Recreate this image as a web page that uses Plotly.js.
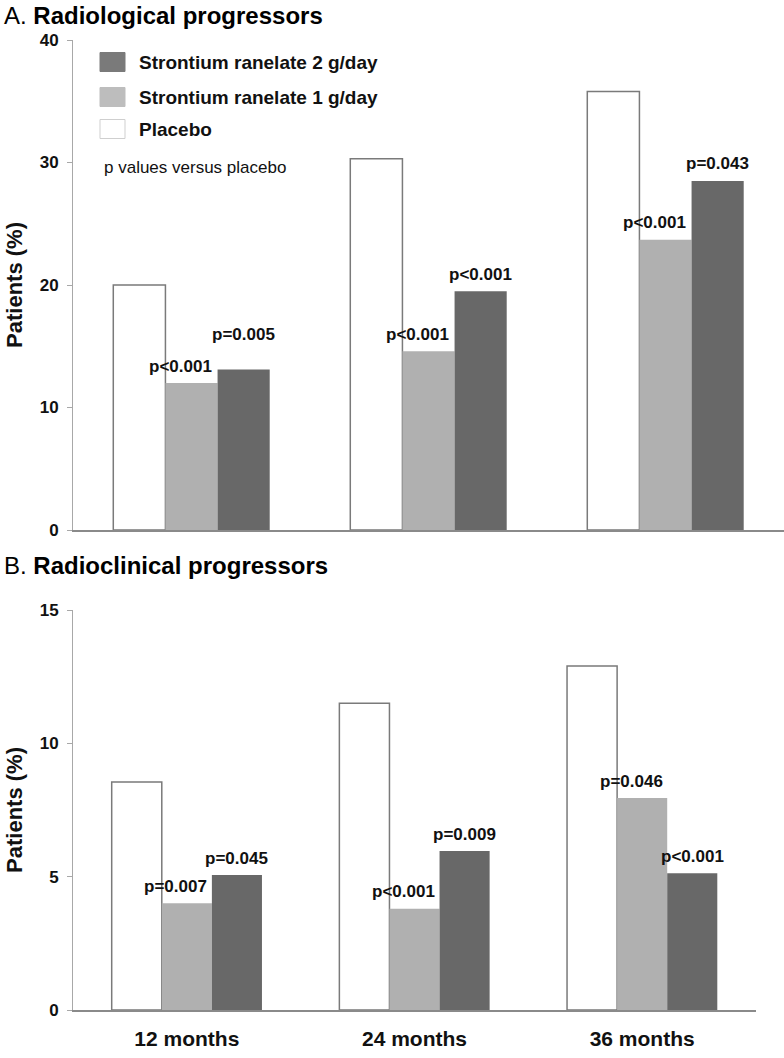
<!DOCTYPE html>
<html>
<head>
<meta charset="utf-8">
<script src="https://cdn.plot.ly/plotly-3.0.1.min.js"></script>
<style>html,body{margin:0;padding:0;background:#fff;}#chart{width:784px;height:1058px;}</style>
</head>
<body>
<div id="chart"></div>
<script>
// ---- Data ----
const categories = ["12 months", "24 months", "36 months"];
const seriesNames = ["Placebo", "Strontium ranelate 1 g/day", "Strontium ranelate 2 g/day"];

// Panel A: Radiological progressors (% patients)
const radiologicalPlacebo = [20.0, 30.3, 35.8];
const radiological1g = [12.0, 14.6, 23.7];
const radiological2g = [13.1, 19.5, 28.5];
const radiologicalP1g = ["p<0.001", "p<0.001", "p<0.001"];
const radiologicalP2g = ["p=0.005", "p<0.001", "p=0.043"];

// Panel B: Radioclinical progressors (% patients)
const radioclinicalPlacebo = [8.55, 11.5, 12.9];
const radioclinical1g = [4.0, 3.8, 7.95];
const radioclinical2g = [5.06, 5.96, 5.13];
const radioclinicalP1g = ["p=0.007", "p<0.001", "p=0.046"];
const radioclinicalP2g = ["p=0.045", "p=0.009", "p<0.001"];

const yTicksA = [0, 10, 20, 30, 40];
const yTicksB = [0, 5, 10, 15];

// ---- Styles ----
const FONT = "Liberation Sans, Arial, sans-serif";
const colors = ["#ffffff", "#b0b0b0", "#686868"];
const lineColors = ["#7a7a7a", "#b0b0b0", "#686868"];
const lineWidths = [1.5, 0, 0];

const idx = categories.map((c, i) => i);

function barTraces(vals, xa, ya) {
  return vals.map((v, k) => ({
    type: "bar",
    x: idx,
    y: v,
    name: seriesNames[k],
    xaxis: xa, yaxis: ya,
    marker: {color: colors[k], line: {color: lineColors[k], width: lineWidths[k]}},
    showlegend: false,
    hoverinfo: "y"
  }));
}

const data = [
  ...barTraces([radiologicalPlacebo, radiological1g, radiological2g], "x", "y"),
  ...barTraces([radioclinicalPlacebo, radioclinical1g, radioclinical2g], "x2", "y2")
];

// geometry (pixels)
const W = 784, H = 1058;
const mL = 73, mR = 0, mT = 40, mB = 48;
const plotH = H - mT - mB;
const plotW = W - mL - mR;
const topY0 = 530, topY1 = 40;
const botY0 = 1010, botY1 = 610;
const botXEnd = 756;
const fy = p => (H - mB - p) / plotH;

const barW = 0.22;
const annotations = [];

function pLabels(labels1, labels2, vals1, vals2, xa, ya, extra) {
  labels1.forEach((t, i) => annotations.push({
    x: i, y: vals1[i], xref: xa, yref: ya, text: "<b>" + t + "</b>",
    showarrow: false, xanchor: "center", yanchor: "middle", xshift: -11, yshift: 17,
    font: {family: FONT, size: 17, color: "#111"}
  }));
  labels2.forEach((t, i) => annotations.push({
    x: i + barW, y: vals2[i], xref: xa, yref: ya, text: "<b>" + t + "</b>",
    showarrow: false, xanchor: "center", yanchor: "middle", xshift: 0, yshift: 17 + (extra[i] || 0),
    font: {family: FONT, size: 17, color: "#111"}
  }));
}
pLabels(radiologicalP1g, radiologicalP2g, radiological1g, radiological2g, "x", "y", [18, 0, 0]);
pLabels(radioclinicalP1g, radioclinicalP2g, radioclinical1g, radioclinical2g, "x2", "y2", [0, 0, 0]);

// panel titles
const px = p => (p - mL) / plotW;
annotations.push({
  xref: "paper", yref: "paper", x: px(2), y: fy(15), xanchor: "left", yanchor: "middle",
  text: "A. <b>Radiological progressors</b>", showarrow: false,
  font: {family: FONT, size: 24, color: "#000"}
});
annotations.push({
  xref: "paper", yref: "paper", x: px(2), y: fy(565), xanchor: "left", yanchor: "middle",
  text: "B. <b>Radioclinical progressors</b>", showarrow: false,
  font: {family: FONT, size: 24, color: "#000"}
});

// manual legend (top panel)
const legendOrder = [2, 1, 0];
const legendRowsY = [62, 97, 129];
const shapes = [];
legendOrder.forEach((k, r) => {
  const yc = legendRowsY[r];
  shapes.push({
    type: "rect", xref: "paper", yref: "paper",
    x0: px(100), x1: px(125), y0: fy(yc - 9.5), y1: fy(yc + 9.5),
    fillcolor: k === 0 ? "#ffffff" : (k === 1 ? "#bdbdbd" : "#7a7a7a"),
    line: {color: k === 0 ? "#cfcfcf" : (k === 1 ? "#bdbdbd" : "#7a7a7a"), width: 1}
  });
  annotations.push({
    xref: "paper", yref: "paper", x: px(137), y: fy(yc), xanchor: "left", yanchor: "middle",
    text: "<b>" + seriesNames[k] + "</b>", showarrow: false,
    font: {family: FONT, size: 19, color: "#111"}
  });
});
annotations.push({
  xref: "paper", yref: "paper", x: px(102), y: fy(168), xanchor: "left", yanchor: "middle",
  text: "p values versus placebo", showarrow: false,
  font: {family: FONT, size: 17, color: "#111"}
});

const yAxisCommon = {
  showgrid: false, zeroline: false, showline: true, linecolor: "#a8a8a8", linewidth: 1,
  ticks: "outside", ticklen: 5, tickcolor: "#a8a8a8", tickwidth: 1,
  tickfont: {family: FONT, size: 17, color: "#111", weight: "bold"},
  ticklabelstandoff: 5,
  title: {text: "<b>Patients (%)</b>", font: {family: FONT, size: 22, color: "#111"}, standoff: 10}
};
const xAxisCommon = {
  showgrid: false, zeroline: false, showline: true, linecolor: "#8a8a8a", linewidth: 1.5,
  ticks: "", range: [-0.5, 2.5], tickvals: idx, ticktext: categories, fixedrange: true
};

const layout = {
  width: W, height: H,
  margin: {l: mL, r: mR, t: mT, b: mB},
  paper_bgcolor: "#fff", plot_bgcolor: "#fff",
  barmode: "group", bargap: 0.34, bargroupgap: 0,
  showlegend: false,
  xaxis: Object.assign({}, xAxisCommon, {domain: [0, 1], anchor: "y", showticklabels: false}),
  yaxis: Object.assign({}, yAxisCommon, {domain: [fy(topY0), fy(topY1)], anchor: "x", range: [0, 40], tickvals: yTicksA}),
  xaxis2: Object.assign({}, xAxisCommon, {domain: [0, px(botXEnd)], anchor: "y2", showticklabels: true,
    tickfont: {family: FONT, size: 21, color: "#111", weight: "bold"}, ticklabelstandoff: 9}),
  yaxis2: Object.assign({}, yAxisCommon, {domain: [fy(botY0), fy(botY1)], anchor: "x2", range: [0, 15], tickvals: yTicksB}),
  annotations: annotations,
  shapes: shapes
};

Plotly.newPlot("chart", data, layout, {displayModeBar: false, staticPlot: true});
</script>
</body>
</html>
